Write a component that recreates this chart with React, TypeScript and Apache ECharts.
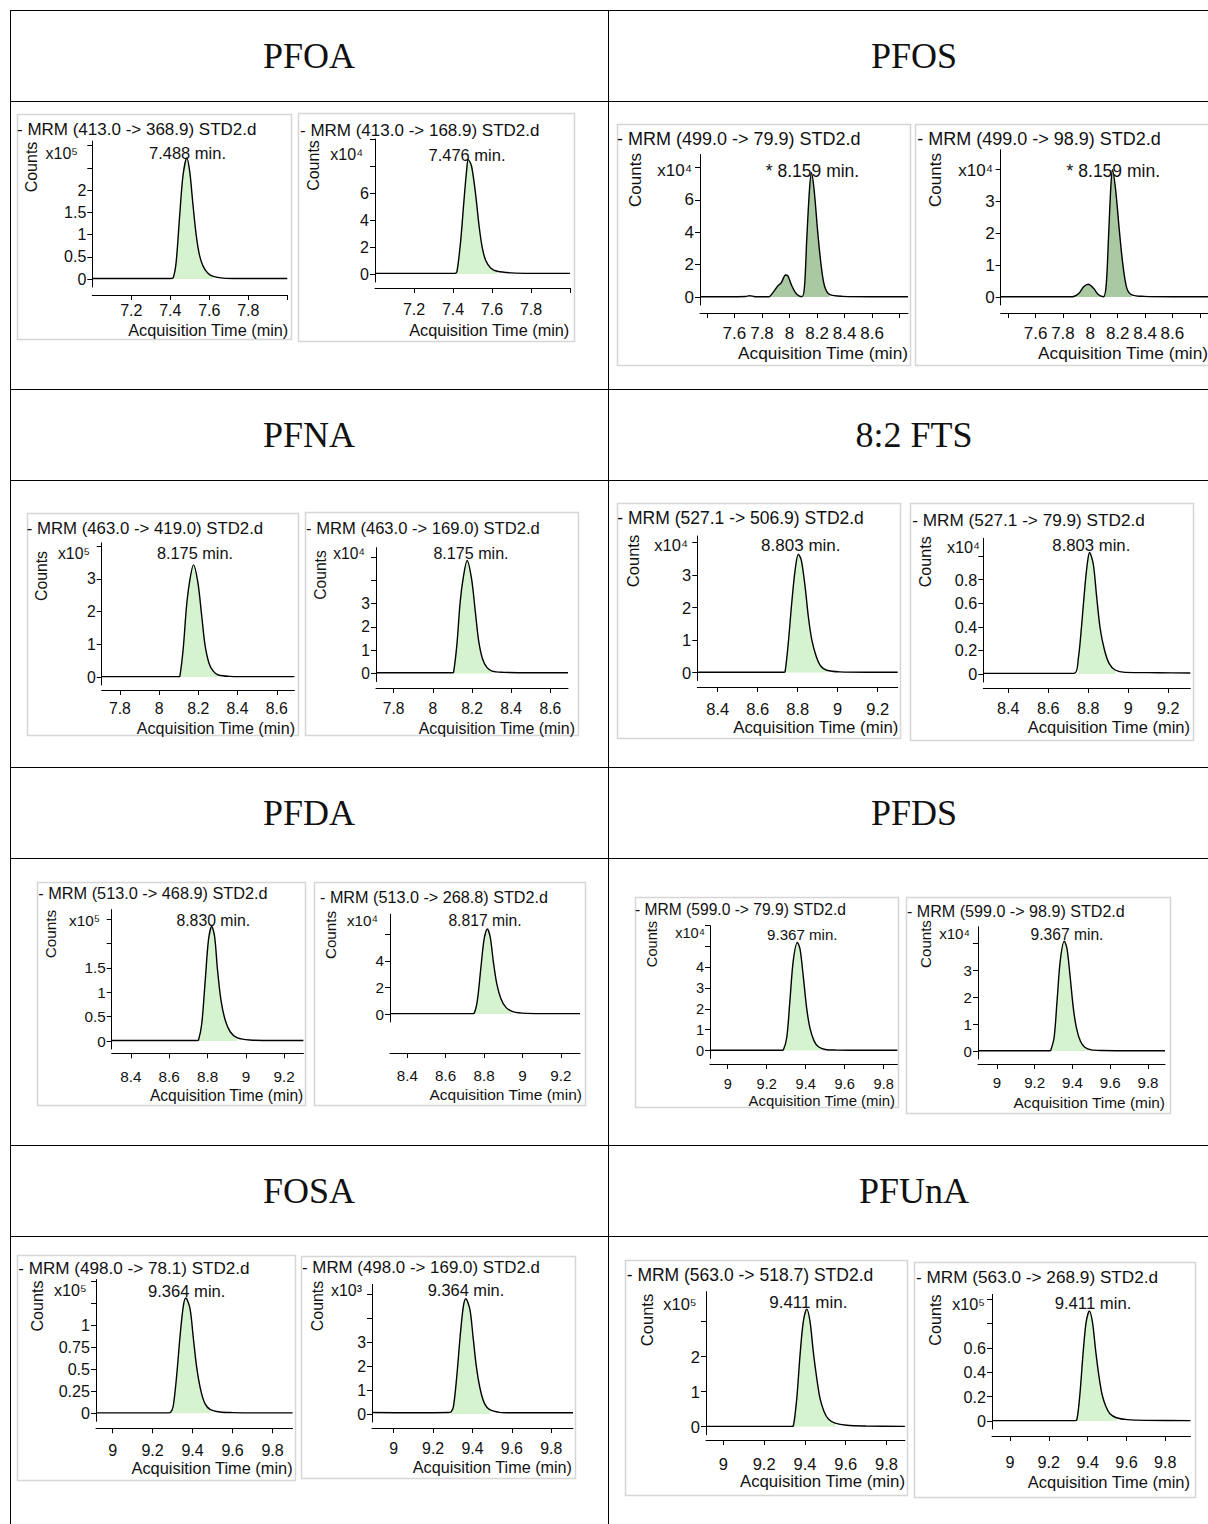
import React, { useEffect, useRef } from "react";
import * as echarts from "echarts";

// ---------- table headers ----------
const HEADERS = ["PFOA", "PFOS", "PFNA", "8:2 FTS", "PFDA", "PFDS", "FOSA", "PFUnA"];

// ---------- chromatogram labels ----------
const MRM_LABELS = [
  "- MRM (413.0 -> 368.9) STD2.d", "- MRM (413.0 -> 168.9) STD2.d",
  "- MRM (499.0 -> 79.9) STD2.d", "- MRM (499.0 -> 98.9) STD2.d",
  "- MRM (463.0 -> 419.0) STD2.d", "- MRM (463.0 -> 169.0) STD2.d",
  "- MRM (527.1 -> 506.9) STD2.d", "- MRM (527.1 -> 79.9) STD2.d",
  "- MRM (513.0 -> 468.9) STD2.d", "- MRM (513.0 -> 268.8) STD2.d",
  "- MRM (599.0 -> 79.9) STD2.d", "- MRM (599.0 -> 98.9) STD2.d",
  "- MRM (498.0 -> 78.1) STD2.d", "- MRM (498.0 -> 169.0) STD2.d",
  "- MRM (563.0 -> 518.7) STD2.d", "- MRM (563.0 -> 268.9) STD2.d",
];
const PEAK_LABELS = [
  "7.488 min.", "7.476 min.", "* 8.159 min.", "* 8.159 min.",
  "8.175 min.", "8.175 min.", "8.803 min.", "8.803 min.",
  "8.830 min.", "8.817 min.", "9.367 min.", "9.367 min.",
  "9.364 min.", "9.364 min.", "9.411 min.", "9.411 min.",
];
const EXPONENTS = ["⁵", "⁴", "⁴", "⁴", "⁵", "⁴", "⁴", "⁴", "⁵", "⁴", "⁴", "⁴", "⁵", "³", "⁵", "⁵"];

// ---------- traces: [time (min), counts in units of 10^n] ----------
const PFOA_368 = [[7.0,0.01],[7.2,0.01],[7.4,0.01],[7.415,0.03],[7.43,0.38],[7.448,1.42],[7.465,2.32],[7.485,2.72],[7.5,2.4],[7.516,1.68],[7.533,0.98],[7.55,0.53],[7.568,0.29],[7.593,0.13],[7.62,0.06],[7.67,0.02],[7.75,0.01],[8.0,0.01]];
const PFOA_169 = [[7.0,0.05],[7.2,0.05],[7.41,0.05],[7.42,0.15],[7.439,2.4],[7.456,5.4],[7.47,7.7],[7.478,8.47],[7.495,8.0],[7.516,5.9],[7.533,3.65],[7.55,1.95],[7.568,1.0],[7.593,0.45],[7.627,0.2],[7.7,0.08],[7.8,0.05],[8.0,0.05]];
const PFOS_80 = [[7.35,0.02],[7.6,0.02],[7.68,0.03],[7.71,0.08],[7.75,0.02],[7.85,0.02],[7.879,0.27],[7.915,0.68],[7.94,0.88],[7.971,1.36],[7.988,1.3],[8.012,0.78],[8.043,0.27],[8.072,0.06],[8.092,0.03],[8.109,0.68],[8.125,3.56],[8.145,6.65],[8.159,7.67],[8.178,6.65],[8.205,3.97],[8.23,1.91],[8.254,0.68],[8.29,0.16],[8.386,0.04],[8.6,0.02],[8.86,0.02]];
const PFOS_99 = [[7.345,0.01],[7.6,0.01],[7.87,0.01],[7.915,0.11],[7.951,0.32],[7.985,0.4],[8.024,0.27],[8.06,0.07],[8.097,0.01],[8.116,0.37],[8.133,1.86],[8.15,3.46],[8.162,3.98],[8.185,3.35],[8.212,2.08],[8.238,1.01],[8.267,0.27],[8.303,0.07],[8.39,0.02],[8.6,0.01],[8.86,0.01]];
const PFNA_419 = [[7.707,0.01],[7.9,0.01],[8.1,0.01],[8.106,0.03],[8.123,0.88],[8.14,2.18],[8.157,2.98],[8.175,3.43],[8.198,2.88],[8.217,1.88],[8.234,0.98],[8.254,0.43],[8.276,0.18],[8.302,0.06],[8.36,0.02],[8.5,0.01],[8.69,0.01]];
const PFNA_169 = [[7.71,0.03],[7.9,0.03],[8.1,0.03],[8.106,0.05],[8.123,1.25],[8.14,3.1],[8.157,4.2],[8.175,4.85],[8.198,4.05],[8.217,2.65],[8.234,1.4],[8.254,0.62],[8.276,0.26],[8.302,0.1],[8.36,0.05],[8.5,0.03],[8.69,0.03]];
const FTS_507 = [[8.298,0.01],[8.5,0.01],[8.73,0.01],[8.737,0.03],[8.753,0.91],[8.77,2.13],[8.787,3.15],[8.803,3.64],[8.818,3.46],[8.837,2.64],[8.853,1.73],[8.87,1.02],[8.892,0.51],[8.915,0.2],[8.945,0.07],[9.01,0.02],[9.15,0.01],[9.3,0.01]];
const FTS_80 = [[8.275,0.005],[8.5,0.005],[8.73,0.006],[8.75,0.13],[8.767,0.42],[8.784,0.76],[8.797,0.96],[8.806,1.03],[8.825,0.93],[8.842,0.65],[8.859,0.39],[8.88,0.21],[8.904,0.09],[8.934,0.034],[8.984,0.014],[9.15,0.011],[9.31,0.008]];
const PFDA_469 = [[8.3,0.01],[8.5,0.01],[8.745,0.01],[8.753,0.02],[8.77,0.36],[8.788,1.25],[8.805,2.08],[8.822,2.35],[8.837,2.14],[8.852,1.46],[8.87,0.84],[8.892,0.43],[8.918,0.19],[8.953,0.07],[9.02,0.02],[9.15,0.01],[9.3,0.01]];
const PFDA_269 = [[8.31,0.03],[8.5,0.03],[8.74,0.03],[8.748,0.05],[8.765,1.0],[8.783,3.4],[8.8,5.6],[8.817,6.4],[8.832,5.8],[8.848,4.0],[8.866,2.3],[8.888,1.15],[8.914,0.5],[8.95,0.18],[9.02,0.05],[9.15,0.03],[9.3,0.03]];
const PFDS_80 = [[8.909,0.01],[9.1,0.01],[9.28,0.01],[9.285,0.02],[9.303,0.65],[9.319,2.42],[9.336,4.32],[9.357,5.2],[9.371,4.86],[9.388,3.5],[9.405,2.01],[9.422,1.06],[9.443,0.45],[9.465,0.18],[9.5,0.05],[9.56,0.02],[9.7,0.01],[9.87,0.01]];
const PFDS_99 = [[8.9,0.01],[9.1,0.01],[9.28,0.01],[9.285,0.02],[9.303,0.5],[9.319,1.9],[9.336,3.38],[9.357,4.07],[9.371,3.8],[9.388,2.74],[9.405,1.57],[9.422,0.83],[9.443,0.35],[9.465,0.14],[9.5,0.04],[9.56,0.02],[9.7,0.01],[9.89,0.01]];
const FOSA_78 = [[8.917,0.005],[9.1,0.005],[9.28,0.005],[9.29,0.01],[9.303,0.08],[9.32,0.42],[9.337,0.87],[9.353,1.21],[9.366,1.31],[9.387,1.19],[9.403,0.87],[9.42,0.53],[9.44,0.27],[9.462,0.11],[9.487,0.045],[9.537,0.015],[9.6,0.008],[9.75,0.005],[9.9,0.005]];
const FOSA_169 = [[8.89,0.06],[9.1,0.05],[9.28,0.06],[9.29,0.08],[9.303,0.3],[9.32,1.55],[9.337,3.2],[9.353,4.45],[9.366,4.8],[9.387,4.35],[9.403,3.2],[9.42,1.95],[9.44,1.0],[9.462,0.42],[9.487,0.18],[9.537,0.07],[9.6,0.05],[9.75,0.05],[9.91,0.05]];
const PFUNA_519 = [[8.915,0.01],[9.1,0.01],[9.335,0.01],[9.343,0.02],[9.36,0.81],[9.376,2.05],[9.392,3.0],[9.409,3.36],[9.425,3.0],[9.441,2.14],[9.458,1.38],[9.474,0.81],[9.494,0.43],[9.515,0.22],[9.548,0.1],[9.605,0.04],[9.7,0.02],[9.89,0.01]];
const PFUNA_269 = [[8.907,0.003],[9.1,0.003],[9.335,0.003],[9.343,0.005],[9.36,0.22],[9.376,0.55],[9.392,0.81],[9.409,0.904],[9.425,0.81],[9.441,0.58],[9.458,0.37],[9.474,0.22],[9.494,0.12],[9.515,0.06],[9.548,0.027],[9.605,0.011],[9.7,0.005],[9.93,0.003]];

const TRACES = [PFOA_368, PFOA_169, PFOS_80, PFOS_99, PFNA_419, PFNA_169, FTS_507, FTS_80, PFDA_469, PFDA_269, PFDS_80, PFDS_99, FOSA_78, FOSA_169, PFUNA_519, PFUNA_269];

// integration windows (filled region)
const FILL_WINDOWS = [[7.415,7.62],[7.42,7.627],[7.85,8.3],[7.87,8.31],[8.106,8.302],[8.106,8.302],[8.737,8.945],[8.734,8.934],[8.753,8.953],[8.748,8.95],[9.285,9.5],[9.285,9.5],[9.29,9.487],[9.29,9.487],[9.343,9.548],[9.343,9.548]];
const DARK_FILL = [false,false,true,true,false,false,false,false,false,false,false,false,false,false,false,false];

// ---------- axis ranges & ticks ----------
const X_RANGES = [[7.0,8.0],[7.0,8.0],[7.35,8.86],[7.345,8.86],[7.707,8.69],[7.71,8.69],[8.298,9.3],[8.275,9.31],[8.3,9.3],[8.31,9.3],[8.909,9.87],[8.9,9.89],[8.917,9.9],[8.89,9.91],[8.915,9.89],[8.907,9.93]];
const XT_PFOA = [7.2,7.4,7.6,7.8,8.0];
const XL_PFOA = [7.2,7.4,7.6,7.8];
const XT_PFOS = [7.4,7.6,7.8,8.0,8.2,8.4,8.6,8.8];
const XL_PFOS = [7.6,7.8,8,8.2,8.4,8.6];
const XT_PFNA = [7.8,8,8.2,8.4,8.6];
const XT_884 = [8.4,8.6,8.8,9,9.2];
const XT_9 = [9,9.2,9.4,9.6,9.8];
const X_TICKS = [XT_PFOA,XT_PFOA,XT_PFOS,XT_PFOS,XT_PFNA,XT_PFNA,XT_884,XT_884,XT_884,XT_884,XT_9,XT_9,XT_9,XT_9,XT_9,XT_9];
const X_LABELS = [XL_PFOA,XL_PFOA,XL_PFOS,XL_PFOS,XT_PFNA,XT_PFNA,XT_884,XT_884,XT_884,XT_884,XT_9,XT_9,XT_9,XT_9,XT_9,XT_9];

const Y_MAX = [3.1, 10, 8.8, 4.6, 4.1, 5.4, 4.2, 1.15, 2.7, 7.5, 6.0, 4.6, 1.52, 5.4, 3.86, 1.04];
const Y_TICKS = [
  [0,0.5,1,1.5,2,2.5,3],[0,2,4,6,8,10],[0,2,4,6,8],[0,1,2,3,4],
  [0,1,2,3,4],[0,1,2,3,4,5],[0,1,2,3,4],[0,0.2,0.4,0.6,0.8,1.0],
  [0,0.5,1,1.5,2,2.5],[0,2,4,6],[0,1,2,3,4,5,6],[0,1,2,3,4],
  [0,0.25,0.5,0.75,1,1.25,1.5],[0,1,2,3,4,5],[0,1,2,3],[0,0.2,0.4,0.6,0.8,1.0],
];
const Y_LABELS = [
  [0,0.5,1,1.5,2],[0,2,4,6],[0,2,4,6],[0,1,2,3],
  [0,1,2,3],[0,1,2,3],[0,1,2,3],[0,0.2,0.4,0.6,0.8],
  [0,0.5,1,1.5],[0,2,4],[0,1,2,3,4],[0,1,2,3],
  [0,0.25,0.5,0.75,1],[0,1,2,3],[0,1,2],[0,0.2,0.4,0.6],
];

// ---------- layout (pixels) ----------
type Lay = { box: number[]; ax: number; pr: number; base: number; ppu: number; xl: number; lab: number; fs: number; mrm: number[]; pk: number[]; cnt: number[]; x10: number[]; ttl: number[] };
const LAYOUT: Lay[] = [
  { box:[17,114,274,225], ax:92.3, pr:287.3, base:279, ppu:44.5, xl:295, lab:310, fs:17, mrm:[17,129], pk:[187.5,153], cnt:[31.7,167], x10:[78,153], ttl:[288.3,330] },
  { box:[298,113,276,228], ax:375, pr:570, base:274, ppu:13.5, xl:288, lab:309.7, fs:17, mrm:[300,130.7], pk:[467,154.7], cnt:[313.5,165.5], x10:[363,154.7], ttl:[569.3,330] },
  { box:[617,124,293,241], ax:700, pr:908, base:297, ppu:16.2, xl:313, lab:333.3, fs:18, mrm:[617,139.3], pk:[812.5,170.7], cnt:[635,180], x10:[692,170], ttl:[908,353] },
  { box:[915,124,300,241], ax:1000.7, pr:1208.9, base:297, ppu:32, xl:313, lab:333.3, fs:18, mrm:[917.3,139.3], pk:[1113.3,170.7], cnt:[935,180], x10:[993,170], ttl:[1208,353] },
  { box:[27,513,271,222], ax:101.7, pr:294.4, base:677, ppu:32.7, xl:690, lab:708.3, fs:16.8, mrm:[26.7,528], pk:[195,553], cnt:[41.7,576], x10:[90,553], ttl:[295,728] },
  { box:[305,512,273,223], ax:376, pr:568, base:673.5, ppu:23.3, xl:688, lab:708, fs:16.6, mrm:[306,528], pk:[471,553], cnt:[320,575], x10:[365,553], ttl:[575,728] },
  { box:[617,503,283,235], ax:697.3, pr:897.7, base:672.5, ppu:32.5, xl:687, lab:708.3, fs:17.5, mrm:[617.3,518.3], pk:[800.8,545], cnt:[633.3,561], x10:[688,545], ttl:[898.3,727] },
  { box:[910,503,283,237], ax:983.3, pr:1190.3, base:674, ppu:118, xl:688, lab:708.3, fs:17.2, mrm:[912.3,520], pk:[1091.3,545], cnt:[925,561.7], x10:[980,546.7], ttl:[1190,727] },
  { box:[37,882,268,223], ax:111.7, pr:303.4, base:1041, ppu:48.7, xl:1053.3, lab:1076.7, fs:16.3, mrm:[38.3,893], pk:[213.3,920], cnt:[50,934], x10:[100,920], ttl:[303.3,1095] },
  { box:[314,882,271,223], ax:390, pr:580, base:1014, ppu:13.3, xl:1053, lab:1076, fs:16.2, mrm:[320,897], pk:[485,920], cnt:[330,935], x10:[378,920], ttl:[582,1094] },
  { box:[635,897,263,210], ax:710, pr:897.4, base:1050.5, ppu:20.8, xl:1064, lab:1083.3, fs:15.6, mrm:[635,909], pk:[802.3,934], cnt:[651.7,944], x10:[705,933], ttl:[895,1101] },
  { box:[906,897,264,216], ax:978, pr:1165, base:1051, ppu:27, xl:1064, lab:1083, fs:16.1, mrm:[907,911], pk:[1067,934], cnt:[925,944], x10:[970,933], ttl:[1165,1102] },
  { box:[17,1255,278,225], ax:96, pr:292.6, base:1413.3, ppu:88, xl:1428.3, lab:1450, fs:17.1, mrm:[18.3,1268.3], pk:[186.7,1291], cnt:[36.7,1306], x10:[86.7,1290], ttl:[292.7,1468.3] },
  { box:[301,1256,274,222], ax:372, pr:573, base:1414, ppu:24, xl:1428, lab:1448, fs:16.9, mrm:[302,1267], pk:[466,1290], cnt:[317,1306], x10:[362,1290], ttl:[572,1467] },
  { box:[625,1260,282,235], ax:706, pr:904.9, base:1426.7, ppu:35, xl:1440, lab:1463.3, fs:17.5, mrm:[626.7,1275], pk:[808.3,1302], cnt:[646.7,1320], x10:[696.7,1304], ttl:[905,1481] },
  { box:[914,1262,281,235], ax:992, pr:1190.5, base:1421, ppu:121.7, xl:1436, lab:1462, fs:17.2, mrm:[916,1277], pk:[1093,1303], cnt:[935,1320], x10:[985,1304], ttl:[1190,1482] },
];

const TABLE_H = [10, 101, 389, 480, 767, 858, 1145, 1236];
const TABLE_V = [10, 608];
const HEADER_POS = [[309,56],[914,56],[309,435],[914,435],[309,813],[914,813],[309,1191],[914,1191]];

const SANS = '"Liberation Sans", Arial, sans-serif';
const SERIF = '"Liberation Serif", "Times New Roman", serif';
const fmt = (v: number) => String(+Number(v).toFixed(4));

function txt(text: string, x: number, y: number, size: number, align: string, valign: string, extra: any = {}, family = SANS) {
  return {
    type: "text", x, y, z: 10, silent: true, ...extra,
    style: { text, fill: "#111", fontSize: size, fontFamily: family, align, verticalAlign: valign, textAlign: align, textVerticalAlign: valign },
  };
}

function buildOption() {
  const grid: any[] = [], xAxis: any[] = [], yAxis: any[] = [], series: any[] = [], graphic: any[] = [];

  TABLE_H.forEach((y) => graphic.push({ type: "line", silent: true, z: 1, shape: { x1: 10, y1: y + 0.5, x2: 1208, y2: y + 0.5 }, style: { stroke: "#000", lineWidth: 1 } }));
  TABLE_V.forEach((x) => graphic.push({ type: "line", silent: true, z: 1, shape: { x1: x + 0.5, y1: 10, x2: x + 0.5, y2: 1524 }, style: { stroke: "#000", lineWidth: 1 } }));
  HEADERS.forEach((h, i) => graphic.push(txt(h, HEADER_POS[i][0], HEADER_POS[i][1], 36, "center", "middle", {}, SERIF)));

  LAYOUT.forEach((L, i) => {
    const top = L.base - Y_MAX[i] * L.ppu;
    const bottom = L.base + 8;
    const fs = L.fs;
    const lfs = fs - 1;
    grid.push({ left: L.ax, top, width: L.pr - L.ax, height: bottom - top });
    xAxis.push({
      type: "value", gridIndex: i, min: X_RANGES[i][0], max: X_RANGES[i][1], offset: L.xl - bottom,
      axisLine: { show: true, onZero: false, lineStyle: { color: "#000", width: 1 } },
      axisTick: { show: true, length: 5, customValues: X_TICKS[i], lineStyle: { color: "#000", width: 1 } },
      axisLabel: { show: true, customValues: X_LABELS[i], formatter: fmt, margin: L.lab - L.xl - lfs / 2, fontSize: lfs, fontFamily: SANS, color: "#111", hideOverlap: false },
      splitLine: { show: false },
    });
    yAxis.push({
      type: "value", gridIndex: i, min: -8 / L.ppu, max: Y_MAX[i],
      axisLine: { show: true, onZero: false, lineStyle: { color: "#000", width: 1 } },
      axisTick: { show: true, length: 5, customValues: Y_TICKS[i], lineStyle: { color: "#000", width: 1 } },
      axisLabel: { show: true, customValues: Y_LABELS[i], formatter: fmt, margin: 6, fontSize: lfs, fontFamily: SANS, color: "#111", hideOverlap: false },
      splitLine: { show: false },
    });
    const data = TRACES[i];
    const w = FILL_WINDOWS[i];
    series.push({
      type: "line", xAxisIndex: i, yAxisIndex: i, silent: true, z: 2,
      data: data.filter((d) => d[0] >= w[0] && d[0] <= w[1]),
      symbol: "none", smooth: 0.3, lineStyle: { width: 0, opacity: 0 },
      areaStyle: { color: DARK_FILL[i] ? "#a9c9a2" : "#d4f3ce", opacity: 1 },
    });
    series.push({
      type: "line", xAxisIndex: i, yAxisIndex: i, silent: true, z: 3,
      data, symbol: "none", smooth: 0.3, lineStyle: { color: "#000", width: 1.4 },
    });

    const [bx, by, bw, bh] = L.box;
    graphic.push({ type: "rect", silent: true, z: 0, shape: { x: bx + 0.5, y: by + 0.5, width: bw, height: bh }, style: { fill: "none", stroke: "#d6d6d6", lineWidth: 1.5 } });
    graphic.push(txt(MRM_LABELS[i], L.mrm[0], L.mrm[1], fs, "left", "middle"));
    graphic.push(txt(PEAK_LABELS[i], L.pk[0], L.pk[1], fs - 0.5, "center", "middle"));
    graphic.push(txt("Counts", L.cnt[0], L.cnt[1], fs - 1, "center", "middle", { rotation: Math.PI / 2 }));
    graphic.push(txt("x10" + EXPONENTS[i], L.x10[0], L.x10[1], fs - 1, "right", "middle"));
    graphic.push(txt("Acquisition Time (min)", L.ttl[0], L.ttl[1], fs - 0.7, "right", "middle"));
  });

  return { animation: false, backgroundColor: "#fff", grid, xAxis, yAxis, series, graphic };
}

export default function App() {
  const ref = useRef<HTMLDivElement>(null);
  useEffect(() => {
    if (!ref.current) return;
    const chart = echarts.init(ref.current, undefined, { renderer: "svg" });
    chart.setOption(buildOption() as any);
    return () => chart.dispose();
  }, []);
  return <div ref={ref} style={{ position: "absolute", left: 0, top: 0, width: 1208, height: 1524, background: "#fff" }} />;
}
